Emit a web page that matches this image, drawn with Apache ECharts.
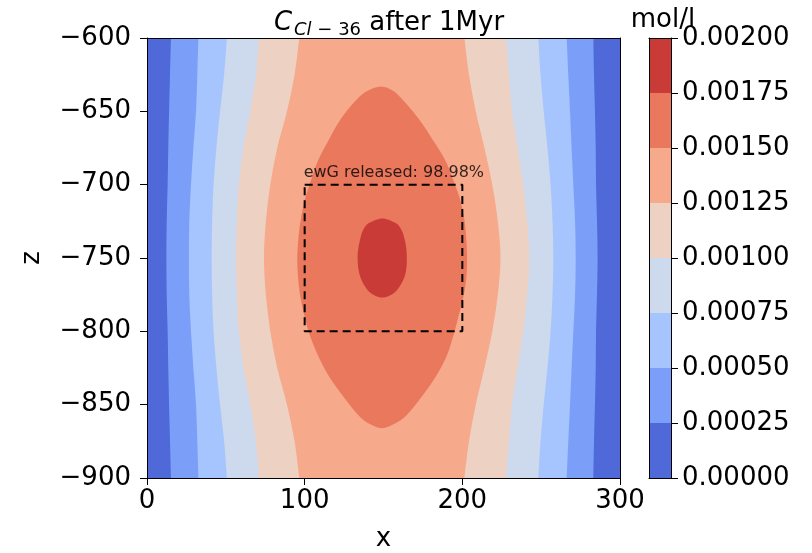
<!DOCTYPE html>
<html><head><meta charset="utf-8">
<script src="https://cdn.jsdelivr.net/npm/echarts@6/dist/echarts.min.js"></script>
<style>html,body{margin:0;padding:0;background:#fff}#c{width:812px;height:553px}</style>
</head><body><div id="c"></div>
<script>
// ---- axis ticks ----
const xTicks = [0, 100, 200, 300];
const zTicks = [-900, -850, -800, -750, -700, -650, -600];
// ---- contour levels (mol/l) and colours ----
const levels = [0, 0.00025, 0.0005, 0.00075, 0.001, 0.00125, 0.0015, 0.00175, 0.002];
const levelColors = ['#4f69d9', '#7b9ff9', '#a6c4fe', '#cdd9ec', '#edd1c2', '#f6a98b', '#e9785d', '#c93b37'];
// ---- contour boundaries (x at each z) ----
const zRows = [-600, -625, -650, -675, -700, -725, -750, -775, -800, -825, -850, -875, -900];
const b1L = [15.2, 14.6, 14.0, 13.5, 13.1, 12.5, 12.3, 12.5, 13.1, 13.5, 14.0, 14.6, 15.2];
const b1R = [283.1, 283.5, 284.1, 284.6, 284.8, 285.4, 285.8, 285.4, 284.8, 284.6, 284.1, 283.5, 283.1];
const b2L = [32.6, 31.9, 31.1, 29.4, 27.9, 26.8, 26.6, 26.8, 27.9, 29.4, 31.1, 31.9, 32.6];
const b2R = [266.2, 267.2, 268.3, 269.3, 270.4, 271.5, 271.9, 271.5, 270.4, 269.3, 268.3, 267.2, 266.2];
const b3L = [50.7, 48.9, 46.3, 44.0, 42.2, 41.3, 41.0, 41.3, 42.2, 44.0, 46.3, 48.9, 50.7];
const b3R = [248.2, 249.6, 251.6, 254.0, 256.0, 257.2, 257.7, 257.2, 256.0, 254.0, 251.6, 249.6, 248.2];
const b4L = [71.0, 69.1, 65.5, 61.2, 58.2, 57.0, 56.4, 57.0, 58.2, 61.2, 65.5, 69.1, 71.0];
const b4R = [227.7, 229.6, 231.5, 235.0, 238.6, 241.1, 242.5, 241.1, 238.6, 235.0, 231.5, 229.6, 227.7];
const b5L = [96.6, 93.6, 88.8, 82.6, 78.2, 75.4, 74.2, 75.4, 78.2, 82.6, 88.8, 93.6, 96.6];
const b5R = [201.3, 204.2, 208.5, 214.0, 219.0, 222.5, 224.2, 222.5, 219.0, 214.0, 208.5, 204.2, 201.3];
const lensZ = [-633, -636, -642, -656, -670, -683, -697, -710, -724, -737, -750, -763, -776, -790, -803, -817, -830, -843, -857, -863, -866];
const lensL = [148.5, 140, 133, 122.4, 115, 108.7, 104, 100.2, 97.5, 96, 95.3, 95.8, 97.2, 100, 103.4, 108.7, 115, 123.5, 134, 141, 149];
const lensR = [148.5, 156, 162, 173, 181.6, 189, 194.3, 198.5, 201.3, 202.5, 203, 202.6, 200.8, 197.5, 194.3, 190, 183.7, 175.3, 164.7, 157, 149];
const coreZ = [-723, -726, -731, -738, -745, -751, -757, -763, -769, -774, -777];
const coreL = [149.3, 141, 137, 135, 133.8, 133.6, 134, 135.3, 138, 142, 149.3];
const coreR = [149.3, 157.5, 161.5, 163.6, 164.6, 164.8, 164.5, 163.3, 160.5, 156.5, 149.3];
// ---- released box ----
const boxX = [100, 200];
const boxZ = [-800, -700];
const releasedText = 'ewG released: 98.98%';

const FONT = 'DejaVu Sans';
const xMin = xTicks[0], xMax = xTicks[xTicks.length - 1];
const zMin = zTicks[0], zMax = zTicks[zTicks.length - 1];
const regions = [
  null,
  {z: zRows, L: b1L, R: b1R, closed: false},
  {z: zRows, L: b2L, R: b2R, closed: false},
  {z: zRows, L: b3L, R: b3R, closed: false},
  {z: zRows, L: b4L, R: b4R, closed: false},
  {z: zRows, L: b5L, R: b5R, closed: false},
  {z: lensZ, L: lensL, R: lensR, closed: true},
  {z: coreZ, L: coreL, R: coreR, closed: true}
];
function minusFmt(v) { return v < 0 ? '\u2212' + Math.abs(v) : String(v); }

// Catmull-Rom curve through pixel points (rendering only)
function crSegs(p, closed) {
  const n = p.length;
  let s = '';
  const last = closed ? n : n - 1;
  for (let i = 0; i < last; i++) {
    const p1 = p[i], p2 = p[(i + 1) % n];
    const p0 = closed ? p[(i - 1 + n) % n] : (i > 0 ? p[i - 1] : p1);
    const p3 = closed ? p[(i + 2) % n] : (i + 2 < n ? p[i + 2] : p2);
    const c1 = [p1[0] + (p2[0] - p0[0]) / 6, p1[1] + (p2[1] - p0[1]) / 6];
    const c2 = [p2[0] - (p3[0] - p1[0]) / 6, p2[1] - (p3[1] - p1[1]) / 6];
    s += ' C' + c1[0].toFixed(2) + ' ' + c1[1].toFixed(2) + ' ' + c2[0].toFixed(2) + ' ' + c2[1].toFixed(2) + ' ' + p2[0].toFixed(2) + ' ' + p2[1].toFixed(2);
  }
  return s;
}
function mv(c) { return c[0].toFixed(2) + ' ' + c[1].toFixed(2); }

function renderContour(params, api) {
  const i = params.dataIndex;
  if (i === 0) {
    const pts = [[xMin, zMax], [xMax, zMax], [xMax, zMin], [xMin, zMin]].map(p => api.coord(p));
    return {type: 'polygon', shape: {points: pts}, style: {fill: levelColors[i]}};
  }
  const r = regions[i];
  const left = r.z.map((z, k) => api.coord([r.L[k], z]));
  const right = r.z.map((z, k) => api.coord([r.R[k], z])).reverse();
  let d;
  if (r.closed) {
    const loop = left.concat(right.slice(1, right.length - 1));
    d = 'M' + mv(loop[0]) + crSegs(loop, true) + ' Z';
  } else {
    d = 'M' + mv(left[0]) + crSegs(left, false) + ' L' + mv(right[0]) + crSegs(right, false) + ' Z';
  }
  return {type: 'path', shape: {pathData: d}, style: {fill: levelColors[i]}};
}
function renderBar(params, api) {
  const i = params.dataIndex;
  const a = api.coord([0, levels[i + 1]]);
  const b = api.coord([1, levels[i]]);
  return {type: 'rect', shape: {x: a[0], y: a[1], width: b[0] - a[0], height: b[1] - a[1]}, style: {fill: levelColors[i]}};
}

const tickFont = {fontSize: 26, color: '#000', fontFamily: FONT};
const plainAxis = (grid, pos, min, max) => ({
  gridIndex: grid, type: 'value', position: pos, min: min, max: max, z: 10,
  axisLine: {show: true, onZero: false, lineStyle: {color: '#000', width: 1}},
  axisTick: {show: false}, axisLabel: {show: false}, splitLine: {show: false}
});

const option = {
  animation: false,
  backgroundColor: '#fff',
  title: [
    {
      text: '{c|C}{s|Cl}{m| \u2212 36} after 1Myr',
      left: 384, top: 2, textAlign: 'center',
      textStyle: {fontSize: 26, fontWeight: 'normal', color: '#000', fontFamily: FONT,
        rich: {
          c: {fontSize: 26, fontStyle: 'italic', fontFamily: FONT, color: '#000'},
          s: {fontSize: 18, fontStyle: 'italic', fontFamily: FONT, color: '#000', padding: [14, 0, 0, 2]},
          m: {fontSize: 18, fontFamily: FONT, color: '#000', padding: [14, 0, 0, 0]}
        }}
    },
    {
      text: 'mol/l', left: 658, top: 2, textAlign: 'center',
      textStyle: {fontSize: 26, fontWeight: 'normal', color: '#000', fontFamily: FONT}
    }
  ],
  grid: [
    {left: 147, top: 38, width: 473, height: 440, containLabel: false, outerBoundsMode: 'none'},
    {left: 649, top: 38, width: 22, height: 440, containLabel: false, outerBoundsMode: 'none'}
  ],
  xAxis: [
    {
      gridIndex: 0, type: 'value', min: xMin, max: xMax, interval: 100, position: 'bottom', z: 10,
      axisLine: {show: true, onZero: false, lineStyle: {color: '#000', width: 1}},
      axisTick: {show: true, length: 7, lineStyle: {color: '#000'}},
      axisLabel: Object.assign({margin: 10}, tickFont),
      splitLine: {show: false},
      name: 'x', nameLocation: 'middle', nameGap: 48,
      nameTextStyle: {fontSize: 26, color: '#000', fontFamily: FONT}
    },
    plainAxis(0, 'top', xMin, xMax),
    plainAxis(1, 'bottom', 0, 1),
    plainAxis(1, 'top', 0, 1)
  ],
  yAxis: [
    {
      gridIndex: 0, type: 'value', min: zMin, max: zMax, interval: 50, position: 'left', z: 10,
      axisLine: {show: true, onZero: false, lineStyle: {color: '#000', width: 1}},
      axisTick: {show: true, length: 7, lineStyle: {color: '#000'}},
      axisLabel: Object.assign({margin: 16, formatter: minusFmt}, tickFont),
      splitLine: {show: false},
      name: 'z', nameLocation: 'middle', nameGap: 102,
      nameTextStyle: {fontSize: 26, color: '#000', fontFamily: FONT}
    },
    plainAxis(0, 'right', zMin, zMax),
    {
      gridIndex: 1, type: 'value', min: levels[0], max: levels[levels.length - 1], interval: 0.00025,
      position: 'right', z: 10,
      axisLine: {show: true, onZero: false, lineStyle: {color: '#000', width: 1}},
      axisTick: {show: true, length: 7, lineStyle: {color: '#000'}},
      axisLabel: Object.assign({margin: 11, formatter: v => v.toFixed(5)}, tickFont),
      splitLine: {show: false}
    },
    plainAxis(1, 'left', levels[0], levels[levels.length - 1])
  ],
  series: [
    {
      type: 'custom', xAxisIndex: 0, yAxisIndex: 0, clip: true, silent: true,
      renderItem: renderContour,
      data: levelColors.map((c, i) => [150, -750, i])
    },
    {
      type: 'custom', xAxisIndex: 2, yAxisIndex: 2, silent: true,
      renderItem: renderBar,
      data: levelColors.map((c, i) => [0.5, (levels[i] + levels[i + 1]) / 2, i])
    },
    {
      type: 'line', xAxisIndex: 0, yAxisIndex: 0, symbol: 'none', silent: true, z: 5,
      lineStyle: {color: '#000', width: 2, type: [8, 5]},
      data: [[boxX[0], boxZ[1]], [boxX[1], boxZ[1]], [boxX[1], boxZ[0]], [boxX[0], boxZ[0]], [boxX[0], boxZ[1]]]
    },
    {
      type: 'scatter', xAxisIndex: 0, yAxisIndex: 0, symbolSize: 0, silent: true, z: 6,
      data: [[boxX[0], boxZ[1]]],
      label: {show: true, position: [-1, -4], align: 'left', verticalAlign: 'bottom',
        formatter: releasedText, fontSize: 16, color: '#000', fontFamily: FONT}
    }
  ]
};
const chart = echarts.init(document.getElementById('c'));
chart.setOption(option);
</script>
</body></html>
